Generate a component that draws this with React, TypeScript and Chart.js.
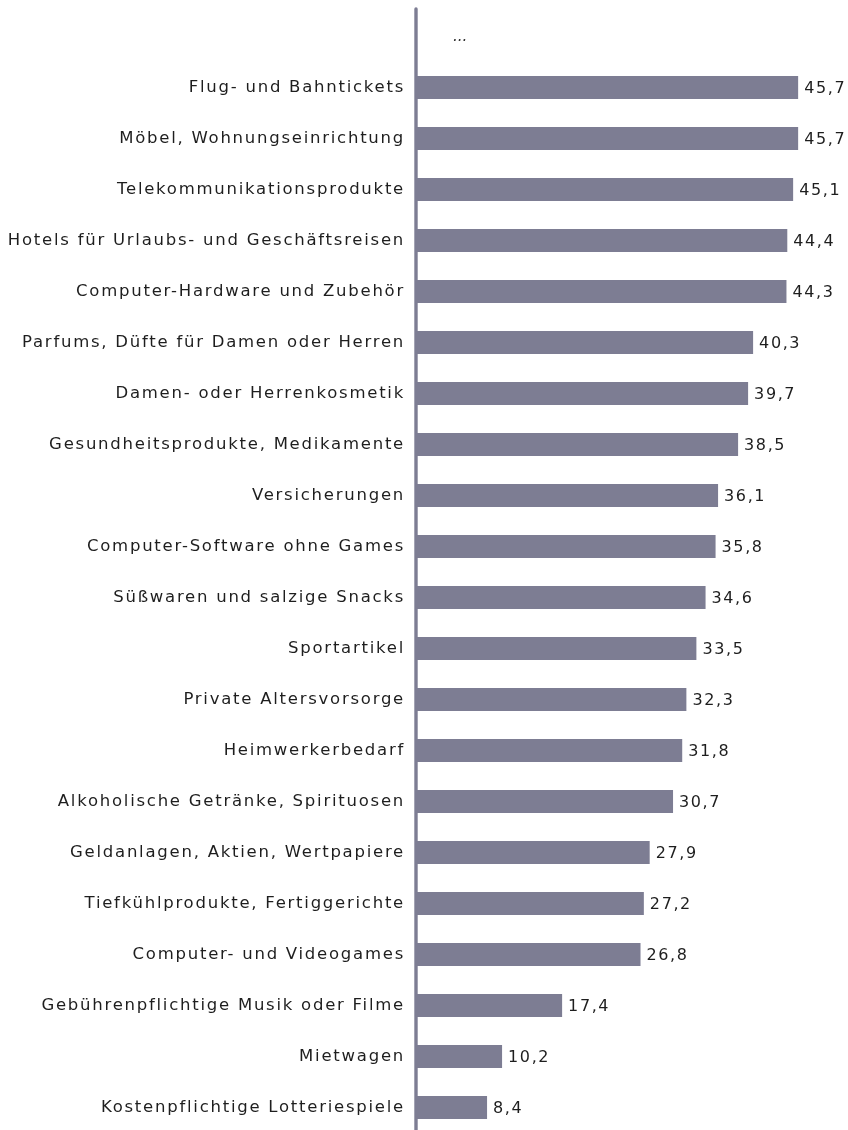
import React, { useEffect, useRef } from "react";
import { Chart, registerables } from "chart.js";

Chart.register(...registerables);

const categories: string[] = [
  "",
  "Flug- und Bahntickets",
  "Möbel, Wohnungseinrichtung",
  "Telekommunikationsprodukte",
  "Hotels für Urlaubs- und Geschäftsreisen",
  "Computer-Hardware und Zubehör",
  "Parfums, Düfte für Damen oder Herren",
  "Damen- oder Herrenkosmetik",
  "Gesundheitsprodukte, Medikamente",
  "Versicherungen",
  "Computer-Software ohne Games",
  "Süßwaren und salzige Snacks",
  "Sportartikel",
  "Private Altersvorsorge",
  "Heimwerkerbedarf",
  "Alkoholische Getränke, Spirituosen",
  "Geldanlagen, Aktien, Wertpapiere",
  "Tiefkühlprodukte, Fertiggerichte",
  "Computer- und Videogames",
  "Gebührenpflichtige Musik oder Filme",
  "Mietwagen",
  "Kostenpflichtige Lotteriespiele",
];

const values: (number | null)[] = [
  null, 45.7, 45.7, 45.1, 44.4, 44.3, 40.3, 39.7, 38.5, 36.1, 35.8, 34.6,
  33.5, 32.3, 31.8, 30.7, 27.9, 27.2, 26.8, 17.4, 10.2, 8.4,
];

const placeholderText = "...";
const xMax = 50;

const BAR_COLOR = "#7d7d93";
const TEXT_COLOR = "#1e1e1e";
const FONT_FAMILY = "'DejaVu Sans', Verdana, sans-serif";
const TICK_SPACING = "1.75px";
const VALUE_SPACING = "1.6px";

const fmt = (v: number) => v.toFixed(1).replace(".", ",");

export default function App() {
  const ref = useRef<HTMLCanvasElement | null>(null);

  useEffect(() => {
    document.body.style.overflow = "hidden";
    const canvas = ref.current;
    if (!canvas) return;

    const spacingPlugin = {
      id: "spacing",
      beforeLayout(chart: any) {
        (chart.ctx as any).letterSpacing = TICK_SPACING;
      },
      beforeDraw(chart: any) {
        (chart.ctx as any).letterSpacing = TICK_SPACING;
      },
    };

    const axisLinePlugin = {
      id: "axisLine",
      beforeDatasetsDraw(chart: any) {
        const { ctx, chartArea } = chart;
        ctx.save();
        ctx.strokeStyle = BAR_COLOR;
        ctx.lineWidth = 3.4;
        ctx.lineCap = "round";
        ctx.beginPath();
        const x = chartArea.left - 1;
        ctx.moveTo(x, chartArea.top - 2);
        ctx.lineTo(x, chart.height + 10);
        ctx.stroke();
        ctx.restore();
      },
    };

    const valueLabelPlugin = {
      id: "valueLabels",
      afterDatasetsDraw(chart: any) {
        const { ctx, chartArea } = chart;
        const meta = chart.getDatasetMeta(0);
        const yScale = chart.scales.y;
        ctx.save();
        (ctx as any).letterSpacing = VALUE_SPACING;
        ctx.fillStyle = TEXT_COLOR;
        ctx.textBaseline = "middle";
        ctx.textAlign = "left";
        ctx.font = `16px ${FONT_FAMILY}`;
        meta.data.forEach((bar: any, i: number) => {
          const v = values[i];
          if (v === null || v === undefined) return;
          ctx.fillText(fmt(v), bar.x + 6, bar.y + 1);
        });
        ctx.font = `italic 15px ${FONT_FAMILY}`;
        ctx.fillStyle = "#333";
        (ctx as any).letterSpacing = "0px";
        ctx.fillText(placeholderText, chartArea.left + 36, yScale.getPixelForValue(0) + 1);
        ctx.restore();
      },
    };

    const chart = new Chart(canvas, {
      type: "bar",
      data: {
        labels: categories,
        datasets: [
          {
            data: values as any,
            backgroundColor: BAR_COLOR,
            borderWidth: 0,
            barPercentage: 0.45,
            categoryPercentage: 1,
          },
        ],
      },
      options: {
        indexAxis: "y",
        responsive: false,
        animation: false,
        layout: { padding: { left: 0, right: 14, top: 11, bottom: 7 } },
        plugins: {
          legend: { display: false },
          tooltip: { enabled: false },
        },
        scales: {
          x: {
            display: false,
            min: 0,
            max: xMax,
            grid: { display: false },
          },
          y: {
            grid: { display: false, drawTicks: false },
            border: { display: false },
            afterFit(scale: any) {
              scale.width = 417;
              scale.paddingTop = 0;
              scale.paddingBottom = 0;
            },
            ticks: {
              autoSkip: false,
              color: TEXT_COLOR,
              padding: 12,
              font: { family: FONT_FAMILY, size: 16.5 },
            },
          },
        },
      },
      plugins: [spacingPlugin, axisLinePlugin, valueLabelPlugin],
    });

    return () => {
      chart.destroy();
    };
  }, []);

  return (
    <div style={{ position: "fixed", left: 0, top: 0, width: 848, height: 1140 }}>
      <canvas ref={ref} width={848} height={1140} />
    </div>
  );
}
